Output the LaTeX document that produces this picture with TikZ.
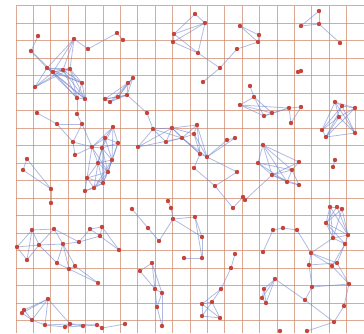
\documentclass[tikz,border=0pt]{standalone}
\usepackage{tikz}
\definecolor{gridc}{RGB}{206,136,108}
\definecolor{edgec}{RGB}{112,132,205}
\definecolor{dotc}{RGB}{198,68,58}
\newcommand\mkpt[3]{\coordinate (#1) at (#2,#3);}
\tikzset{
  gridline/.style={draw=gridc,line width=1pt,opacity=0.72},
  edge/.style={draw=edgec,line width=0.8pt,opacity=0.55},
  dot/.style={fill=dotc},
}
\begin{document}
\begin{tikzpicture}[x=1pt,y=-1pt]
\useasboundingbox (0,0) rectangle (364,333);
\fill[white] (0,0) rectangle (364,333);
% grid
\foreach \k in {0,...,20} \draw[gridline] ({16+17.4*\k},5.5) -- ({16+17.4*\k},333);
\foreach \k in {0,...,18} \draw[gridline] (16,{5.5+17.5*\k}) -- (364,{5.5+17.5*\k});
% points
\mkpt{a1}{38}{36}\mkpt{a2}{31}{51}\mkpt{a3}{74}{39}\mkpt{a4}{88}{49}\mkpt{a5}{47}{68}
\mkpt{a6}{53}{72}\mkpt{a7}{63}{70}\mkpt{a8}{70}{69}\mkpt{a9}{35}{87}\mkpt{a10}{82}{83}
\mkpt{a11}{77}{98}\mkpt{a12}{85}{99}\mkpt{a13}{117}{33}\mkpt{a14}{123}{40}
\mkpt{b1}{133}{78}\mkpt{b2}{128}{83}\mkpt{b3}{118}{97}\mkpt{b4}{127}{95}\mkpt{b5}{105}{99}
\mkpt{b6}{110}{102}\mkpt{b7}{147}{113}
\mkpt{c1}{37}{113}\mkpt{c2}{77}{114}\mkpt{c3}{57}{124}\mkpt{c4}{82}{124}\mkpt{c5}{73}{142}\mkpt{c6}{75}{155}
\mkpt{q1}{113}{127}\mkpt{q2}{105}{138}\mkpt{q3}{118}{143}\mkpt{q4}{92}{147}\mkpt{q5}{102}{148}
\mkpt{q6}{112}{160}\mkpt{q7}{98}{163}\mkpt{q8}{87}{178}\mkpt{q9}{103}{183}\mkpt{q10}{94}{188}
\mkpt{q11}{85}{191}\mkpt{q12}{108}{172}
\mkpt{j1}{27}{159}\mkpt{j2}{23}{170}\mkpt{j3}{51}{189}\mkpt{j4}{51}{203}
\mkpt{d1}{174}{34}\mkpt{d2}{173}{42}\mkpt{d3}{195}{14}\mkpt{d4}{205}{23}\mkpt{d5}{198}{53}
\mkpt{d6}{240}{26}\mkpt{d7}{259}{35}\mkpt{d8}{258}{42}\mkpt{d9}{237}{49}\mkpt{d10}{220}{68}\mkpt{d11}{203}{82}
\mkpt{e1}{319}{11}\mkpt{e2}{319}{24}\mkpt{e3}{301}{26}\mkpt{e4}{340}{43}
\mkpt{s1}{298}{72}\mkpt{s2}{301}{71}\mkpt{s3}{335}{160}\mkpt{s4}{333}{167}
\mkpt{f1}{250}{86}\mkpt{f2}{254}{97}\mkpt{f3}{240}{105}\mkpt{f4}{264}{116}\mkpt{f5}{272}{113}
\mkpt{f6}{289}{108}\mkpt{f7}{301}{107}\mkpt{f8}{291}{123}
\mkpt{g1}{335}{102}\mkpt{g2}{342}{106}\mkpt{g3}{355}{108}\mkpt{g4}{339}{117}\mkpt{g5}{322}{130}
\mkpt{g6}{326}{137}\mkpt{g7}{355}{133}
\mkpt{h1}{153}{129}\mkpt{h2}{172}{128}\mkpt{h3}{166}{142}\mkpt{h4}{138}{147}\mkpt{h5}{182}{138}
\mkpt{h6}{197}{125}\mkpt{h7}{194}{134}\mkpt{h8}{200}{154}\mkpt{h9}{207}{157}\mkpt{h10}{227}{140}
\mkpt{h11}{235}{138}\mkpt{h12}{194}{168}\mkpt{h13}{215}{186}\mkpt{h14}{237}{172}\mkpt{h15}{233}{208}
\mkpt{h16}{243}{197}\mkpt{h17}{245}{200}
\mkpt{r1}{263}{145}\mkpt{r2}{258}{163}\mkpt{r3}{272}{175}\mkpt{r4}{292}{170}\mkpt{r5}{299}{162}
\mkpt{r6}{287}{182}\mkpt{r7}{299}{185}
\mkpt{k1}{132}{209}\mkpt{k2}{148}{228}\mkpt{k3}{159}{241}\mkpt{k4}{168}{201}\mkpt{k5}{171}{208}
\mkpt{k6}{173}{219}\mkpt{k7}{195}{217}\mkpt{k8}{202}{237}\mkpt{k9}{184}{258}\mkpt{k10}{202}{258}
\mkpt{m1}{32}{230}\mkpt{m2}{54}{229}\mkpt{m3}{17}{247}\mkpt{m4}{39}{245}\mkpt{m5}{27}{260}
\mkpt{m6}{63}{244}\mkpt{m7}{79}{242}\mkpt{m8}{90}{229}\mkpt{m9}{102}{227}\mkpt{m10}{100}{236}
\mkpt{m11}{119}{250}\mkpt{m12}{57}{263}\mkpt{m13}{69}{269}\mkpt{m14}{75}{266}\mkpt{m15}{98}{283}
\mkpt{l1}{152}{263}\mkpt{l2}{140}{271}\mkpt{l3}{155}{289}\mkpt{l4}{162}{293}\mkpt{l5}{157}{307}\mkpt{l6}{162}{326}
\mkpt{n1}{48}{299}\mkpt{n2}{24}{310}\mkpt{n3}{22}{313}\mkpt{n4}{32}{320}\mkpt{n5}{45}{325}
\mkpt{n6}{70}{324}\mkpt{n7}{65}{327}\mkpt{n8}{83}{326}\mkpt{n9}{97}{325}\mkpt{n10}{102}{328}\mkpt{n11}{125}{324}
\mkpt{o1}{235}{254}\mkpt{o2}{231}{268}\mkpt{o3}{221}{289}\mkpt{o4}{202}{304}\mkpt{o5}{212}{302}
\mkpt{o6}{202}{316}\mkpt{o7}{220}{318}
\mkpt{p1}{273}{230}\mkpt{p2}{283}{228}\mkpt{p3}{297}{230}\mkpt{p4}{263}{252}\mkpt{p5}{311}{253}
\mkpt{p6}{309}{265}\mkpt{p7}{312}{287}\mkpt{p8}{305}{300}\mkpt{p9}{275}{279}\mkpt{p10}{264}{289}
\mkpt{p11}{262}{298}\mkpt{p12}{266}{303}\mkpt{p13}{330}{207}\mkpt{p14}{337}{207}\mkpt{p15}{342}{209}
\mkpt{p16}{326}{223}\mkpt{p17}{333}{238}\mkpt{p18}{348}{235}\mkpt{p19}{345}{244}\mkpt{p20}{337}{263}
\mkpt{p21}{332}{266}\mkpt{p22}{349}{284}\mkpt{p23}{344}{306}\mkpt{p24}{334}{322}\mkpt{p25}{280}{331}\mkpt{p26}{307}{331}
% edges
\foreach \u/\v in {a1/a2,a2/a5,a3/a4,a4/a13,a13/a14,a3/a6,a3/a7,a3/a8,a5/a6,a5/a7,a5/a8,a6/a7,a6/a8,a7/a8,
  a5/a10,a6/a10,a7/a10,a8/a10,a6/a11,a7/a11,a8/a12,a7/a12,a10/a12,a10/a11,a11/a12,a9/a5,a9/a6,a9/a7,
  a5/a12,a8/a11,a6/a12,a11/c2,a2/a6,a3/a5,a9/a8,a5/a11,
  b5/b6,b5/b3,b6/b3,b3/b4,b4/b1,b1/b3,b1/b6,b2/b5,b2/b4,b5/b4,b1/b2,b4/b7,b6/b4,b2/b3,
  c1/c3,c3/c4,c2/c4,c4/c5,c3/c5,c5/c6,c5/q4,c6/q4,c4/q4,
  q1/q2,q1/q3,q2/q3,q2/q4,q2/q5,q3/q5,q4/q5,q1/q5,q3/q6,q5/q6,q4/q7,q5/q7,q6/q7,q2/q7,q6/q12,q7/q12,
  q7/q8,q6/q9,q12/q9,q12/q10,q8/q9,q8/q10,q9/q10,q8/q11,q10/q11,q7/q9,q12/q8,q3/q12,q4/q8,q5/q12,q6/q10,
  q1/q6,q2/q6,q4/q12,q7/q10,q5/q9,q9/q11,q1/q4,
  j1/j3,j2/j3,j3/j4,j1/j2,
  d3/d4,d1/d4,d2/d4,d1/d5,d2/d5,d4/d5,d1/d2,d6/d7,d6/d8,d7/d8,d8/d9,d9/d10,d10/d11,d5/d10,d3/d1,
  e1/e3,e1/e2,e2/e3,e2/e4,s1/s2,s3/s4,
  f1/f2,f2/f3,f3/f4,f3/f5,f2/f4,f2/f5,f4/f5,f5/f6,f4/f6,f6/f7,f6/f8,f7/f8,f3/f6,
  g1/g2,g1/g3,g2/g3,g1/g4,g2/g5,g3/g7,g4/g5,g4/g6,g5/g6,g6/g7,g2/g6,g3/g6,g1/g7,g4/g7,g2/g7,g3/g4,g1/g5,
  b7/h1,h1/h4,h1/h3,h1/h2,h1/h5,h2/h6,h2/h7,h2/h8,h5/h8,h6/h8,h7/h8,h7/h9,h6/h9,h3/h5,h4/h2,h2/h5,
  h5/h7,h6/h7,h9/h10,h10/h11,h8/h9,h8/h12,h12/h13,h9/h14,h13/h14,h13/h15,h15/h16,h16/h17,h17/r3,
  h3/h2,h4/h5,h5/h6,h5/h9,h9/h11,
  r1/r2,r1/r3,r2/r3,r1/r5,r1/r4,r3/r4,r3/r6,r4/r5,r6/r7,r4/r7,r3/r7,r2/r6,r4/r6,r1/r6,r2/r4,r3/r5,
  k1/k2,k2/k3,k4/k5,k5/k6,k6/k3,k6/k7,k6/k8,k7/k8,k8/k10,k9/k10,k7/k10,
  m1/m4,m1/m3,m3/m4,m3/m5,m5/m4,m1/m5,m4/m2,m2/m6,m4/m6,m4/m12,m6/m12,m6/m13,m12/m13,m13/m14,m6/m14,
  m14/m15,m13/m15,m6/m7,m7/m8,m8/m9,m8/m10,m9/m10,m10/m11,m9/m11,m7/m10,m2/m7,m1/m2,
  l1/l2,l1/l3,l2/l3,l1/l4,l3/l4,l4/l5,l3/l5,l5/l6,l4/l6,
  n1/n2,n1/n3,n1/n4,n1/n5,n2/n4,n3/n4,n4/n5,n5/n6,n1/n6,n5/n7,n7/n6,n6/n8,n8/n9,n9/n10,n10/n11,n6/n9,n7/n8,n2/n3,
  o1/o2,o2/o3,o3/o5,o3/o4,o5/o4,o4/o6,o5/o7,o6/o7,o5/o6,o4/o7,
  p4/p1,p1/p2,p2/p3,p3/p5,p5/p6,p6/p7,p7/p8,p5/p20,p6/p20,p5/p21,p20/p22,p21/p22,p22/p23,p23/p24,
  p13/p14,p14/p15,p13/p16,p16/p17,p17/p18,p18/p19,p17/p19,p14/p18,p15/p18,p16/p18,p13/p17,p15/p16,
  p14/p16,p13/p18,p15/p17,p16/p19,
  p17/p5,p19/p20,p19/p21,p9/p10,p10/p11,p11/p12,p9/p11,p9/p12,p10/p12,p9/p8,p24/p26,p8/p24,p7/p22}
  \draw[edge] (\u) -- (\v);
% dots
\foreach \n in {a1,a2,a3,a4,a5,a6,a7,a8,a9,a10,a11,a12,a13,a14,b1,b2,b3,b4,b5,b6,b7,
  c1,c2,c3,c4,c5,c6,q1,q2,q3,q4,q5,q6,q7,q8,q9,q10,q11,q12,j1,j2,j3,j4,
  d1,d2,d3,d4,d5,d6,d7,d8,d9,d10,d11,e1,e2,e3,e4,s1,s2,s3,s4,
  f1,f2,f3,f4,f5,f6,f7,f8,g1,g2,g3,g4,g5,g6,g7,
  h1,h2,h3,h4,h5,h6,h7,h8,h9,h10,h11,h12,h13,h14,h15,h16,h17,r1,r2,r3,r4,r5,r6,r7,
  k1,k2,k3,k4,k5,k6,k7,k8,k9,k10,m1,m2,m3,m4,m5,m6,m7,m8,m9,m10,m11,m12,m13,m14,m15,
  l1,l2,l3,l4,l5,l6,n1,n2,n3,n4,n5,n6,n7,n8,n9,n10,n11,o1,o2,o3,o4,o5,o6,o7,
  p1,p2,p3,p4,p5,p6,p7,p8,p9,p10,p11,p12,p13,p14,p15,p16,p17,p18,p19,p20,p21,p22,p23,p24,p25,p26}
  \fill[dot] (\n) circle (2.2);
\end{tikzpicture}
\end{document}
